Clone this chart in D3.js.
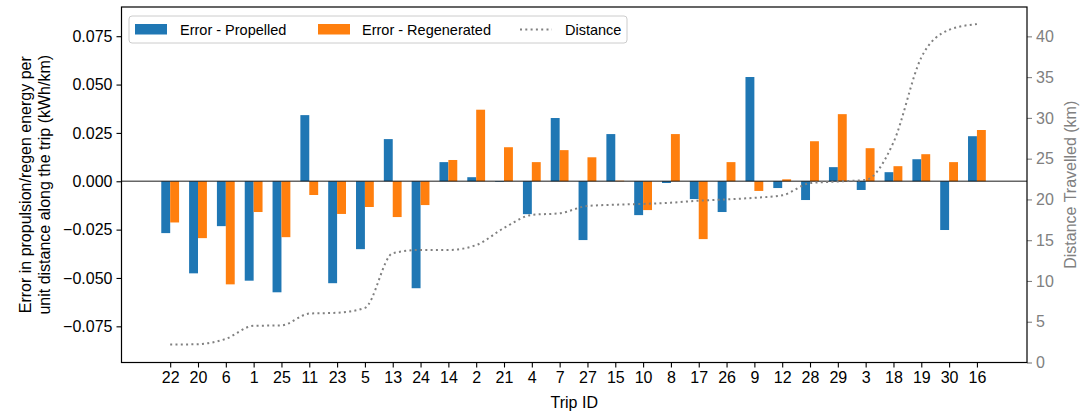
<!DOCTYPE html>
<html>
<head>
<meta charset="utf-8">
<script src="https://cdn.jsdelivr.net/npm/d3@7"></script>
<style>
  body { margin: 0; background: #fff; }
  text { font-family: "Liberation Sans", Arial, sans-serif; }
</style>
</head>
<body>
<svg width="1084" height="414"></svg>
<script>
// trip ids in plotted order
const trips = [22, 20, 6, 1, 25, 11, 23, 5, 13, 24, 14, 2, 21, 4, 7, 27, 15, 10, 8, 17, 26, 9, 12, 28, 29, 3, 18, 19, 30, 16];

const errPropelled = [-0.0268, -0.0476, -0.0232, -0.0514, -0.0574, 0.0342, -0.0527, -0.0351, 0.0218, -0.0553,
    0.0099, 0.0021, -0.0003, -0.0170, 0.0327, -0.0304, 0.0244, -0.0175, -0.0009, -0.0092,
    -0.0159, 0.0539, -0.0035, -0.0097, 0.0073, -0.0045, 0.0047, 0.0114, -0.0252, 0.0233];

const errRegenerated = [-0.0213, -0.0294, -0.0533, -0.0159, -0.0289, -0.0071, -0.0169, -0.0133, -0.0185, -0.0123,
    0.0110, 0.0370, 0.0176, 0.0099, 0.0161, 0.0124, 0.0003, -0.0149, 0.0244, -0.0299,
    0.0099, -0.0050, 0.0010, 0.0207, 0.0347, 0.0171, 0.0078, 0.0140, 0.0099, 0.0265];

const distance = [2.2, 2.25, 2.9, 4.5, 4.55, 6.0, 6.1, 6.7, 13.4, 13.8,
    13.8, 14.4, 16.5, 18.1, 18.3, 19.2, 19.35, 19.45, 19.6, 19.85,
    20.0, 20.2, 20.5, 22.0, 22.2, 22.4, 27.0, 37.4, 40.8, 41.5];

const leftTicks = [-0.075, -0.05, -0.025, 0, 0.025, 0.05, 0.075];
const rightTicks = [0, 5, 10, 15, 20, 25, 30, 35, 40];

const svg = d3.select("svg");
var plot = { left: 121.5, right: 1027, top: 7, bottom: 362.5 };
const barW = 0.32;

const xScale = d3.scaleLinear().domain([-1.75, 30.8]).range([plot.left, plot.right]);
const yScale = d3.scaleLinear().domain([-0.0937, 0.0901]).range([plot.bottom, plot.top]);
const y2Scale = d3.scaleLinear().domain([0, 43.6]).range([plot.bottom, plot.top]);

const g = svg.append("g");

//bars - propelled on left, regenerated on right of tick
function drawBars(values, offset, color) {
    g.append("g").selectAll("rect")
        .data(values)
        .enter().append("rect")
        .attr("x", (d, i) => xScale(i + offset))
        .attr("width", xScale(barW) - xScale(0))
        .attr("y", d => yScale(Math.max(0, d)))
        .attr("height", d => Math.abs(yScale(d) - yScale(0)))
        .attr("fill", color);
}
drawBars(errPropelled, -barW, "#1f77b4");
drawBars(errRegenerated, 0, "#ff7f0e");

// zero line
g.append("line")
    .attr("x1", plot.left).attr("x2", plot.right)
    .attr("y1", yScale(0)).attr("y2", yScale(0))
    .attr("stroke", "#000").attr("stroke-opacity", 0.6).attr("stroke-width", 1.5);

// distance line on the twin axis
const line = d3.line()
    .x((d, i) => xScale(i))
    .y(d => y2Scale(d))
    .curve(d3.curveMonotoneX);
g.append("path")
    .datum(distance)
    .attr("d", line)
    .attr("fill", "none")
    .attr("stroke", "#808080")
    .attr("stroke-width", 2)
    .attr("stroke-dasharray", "2,3.3");

//axes
const xAxis = d3.axisBottom(xScale)
    .tickValues(d3.range(trips.length))
    .tickFormat(i => trips[i])
    .tickSizeOuter(0).tickSize(5).tickPadding(4);
const gX = svg.append("g").attr("transform", `translate(0, ${plot.bottom})`).call(xAxis);

const yAxis = d3.axisLeft(yScale)
    .tickValues(leftTicks)
    .tickFormat(d => d3.format(".3f")(d).replace("-", "\u2212"))
    .tickSizeOuter(0).tickSize(5).tickPadding(4);
const gY = svg.append("g").attr("transform", `translate(${plot.left}, 0)`).call(yAxis);

const y2Axis = d3.axisRight(y2Scale)
    .tickValues(rightTicks)
    .tickSizeOuter(0).tickSize(5).tickPadding(4);
const gY2 = svg.append("g").attr("transform", `translate(${plot.right}, 0)`).call(y2Axis);

[gX, gY, gY2].forEach(a => {
    a.select(".domain").remove();
    a.selectAll("text").style("font-size", "16px").attr("fill", "#000");
    a.selectAll("line").attr("stroke", "#000").attr("stroke-width", 1.1);
});
gY2.selectAll("text").attr("fill", "#808080");
gY2.selectAll("line").attr("stroke", "#808080");

// frame
svg.append("rect")
    .attr("x", plot.left).attr("y", plot.top)
    .attr("width", plot.right - plot.left).attr("height", plot.bottom - plot.top)
    .attr("fill", "none").attr("stroke", "#000").attr("stroke-width", 1.2);

// labels
const midY = (plot.top + plot.bottom) / 2;
svg.append("text")
    .attr("text-anchor", "middle")
    .attr("x", (plot.left + plot.right) / 2).attr("y", 408)
    .style("font-size", "16px")
    .text("Trip ID");

svg.append("text")
    .attr("text-anchor", "middle")
    .attr("transform", `translate(31, ${midY}) rotate(-90)`)
    .style("font-size", "16px")
    .text("Error in propulsion/regen energy per");
svg.append("text")
    .attr("text-anchor", "middle")
    .attr("transform", `translate(50, ${midY}) rotate(-90)`)
    .style("font-size", "16px")
    .text("unit distance along the trip (kWh/km)");

svg.append("text")
    .attr("text-anchor", "middle")
    .attr("transform", `translate(1076, ${midY}) rotate(-90)`)
    .attr("fill", "#808080")
    .style("font-size", "16px")
    .text("Distance Travelled (km)");

// legend
const legend = svg.append("g");
legend.append("rect")
    .attr("x", 129).attr("y", 16).attr("width", 498).attr("height", 27)
    .attr("rx", 3)
    .attr("fill", "#fff").attr("fill-opacity", 0.8)
    .attr("stroke", "#ccc");
const items = [
    { label: "Error - Propelled", color: "#1f77b4", x: 135, tx: 180 },
    { label: "Error - Regenerated", color: "#ff7f0e", x: 318, tx: 362 },
    { label: "Distance", color: "#808080", x: 520, tx: 565, dotted: true }
];
items.forEach(it => {
    if (it.dotted) {
        legend.append("line")
            .attr("x1", it.x).attr("x2", it.x + 32)
            .attr("y1", 29.5).attr("y2", 29.5)
            .attr("stroke", it.color).attr("stroke-width", 2)
            .attr("stroke-dasharray", "2,3.3");
    } else {
        legend.append("rect")
            .attr("x", it.x).attr("y", 24).attr("width", 32).attr("height", 10.5)
            .attr("fill", it.color);
    }
    legend.append("text")
        .attr("x", it.tx).attr("y", 34.5)
        .style("font-size", "14.5px")
        .text(it.label);
});
</script>
</body>
</html>
